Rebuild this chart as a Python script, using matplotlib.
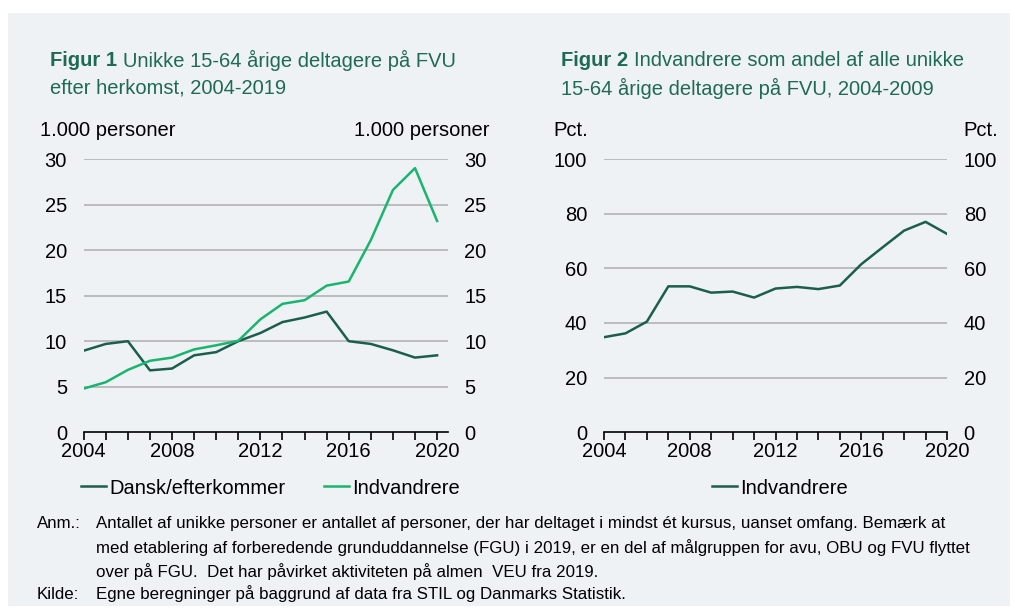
import matplotlib.pyplot as plt
from matplotlib.patches import Rectangle
from matplotlib.ticker import MultipleLocator

## data
years = list(range(2004, 2021))
dansk = [8.96, 9.7, 10.0, 6.8, 7.0, 8.45, 8.8, 10.0, 10.9, 12.1, 12.6, 13.25,
         10.0, 9.7, 9.0, 8.2, 8.45]
indvandrere = [4.8, 5.5, 6.85, 7.85, 8.2, 9.1, 9.55, 10.05, 12.4, 14.1, 14.5,
               16.1, 16.55, 21.1, 26.6, 29.0, 23.2]
andel = [34.8, 36.2, 40.5, 53.4, 53.4, 51.1, 51.5, 49.3, 52.6, 53.2, 52.4,
         53.7, 61.5, 67.7, 73.8, 77.0, 72.6]

title1 = ("Figur 1", "Unikke 15-64 årige deltagere på FVU", "efter herkomst, 2004-2019")
title2 = ("Figur 2", "Indvandrere som andel af alle unikke", "15-64 årige deltagere på FVU, 2004-2009")
note_lines = [
    ("Anm.:", "Antallet af unikke personer er antallet af personer, der har deltaget i mindst ét kursus, uanset omfang. Bemærk at"),
    ("", "med etablering af forberedende grunduddannelse (FGU) i 2019, er en del af målgruppen for avu, OBU og FVU flyttet"),
    ("", "over på FGU.  Det har påvirket aktiviteten på almen  VEU fra 2019."),
    ("Kilde:", "Egne beregninger på baggrund af data fra STIL og Danmarks Statistik."),
]

dark = '#1b5e4b'
light = '#1ab46f'
title_col = '#1f6a55'
bg = '#eef2f5'
grid_col = '#b3b3b3'

plt.rcParams['font.family'] = ['Liberation Sans', 'DejaVu Sans']
W, H = 1015, 616
fig = plt.figure(figsize=(W / 100, H / 100), dpi=100)
fig.patches.append(Rectangle((8 / W, 10 / H), 1002 / W, 593 / H, transform=fig.transFigure,
                             facecolor=bg, edgecolor='none', zorder=-10))


def px(x, y):
    return x / W, 1 - y / H


def style_axis(ax, ymax, ystep, xmax):
    ax.set_facecolor('none')
    ax.set_xlim(2004, xmax)
    ax.set_ylim(0, ymax)
    ax.yaxis.set_major_locator(MultipleLocator(ystep))
    ax.xaxis.set_major_locator(MultipleLocator(4))
    ax.xaxis.set_minor_locator(MultipleLocator(1))
    for s in ['top', 'left', 'right']:
        ax.spines[s].set_visible(False)
    ax.spines['bottom'].set_color('black')
    ax.spines['bottom'].set_linewidth(1.2)
    ax.tick_params(axis='y', length=0, labelleft=True, labelright=True, pad=12,
                   labelsize=14.5)
    ax.tick_params(axis='x', which='both', length=6, width=1.2, direction='out',
                   labelsize=14.5, pad=1)
    for v in range(ystep, ymax + 1, ystep):
        ax.axhline(v, color=grid_col, lw=1.2, zorder=0)


def draw_title(x, y, t):
    bold = fig.text(*px(x, y), t[0] + " ", fontsize=14.5, fontweight='bold',
                    color=title_col, va='center')
    fig.canvas.draw()
    bb = bold.get_window_extent()
    fig.text(bb.x1 / W, 1 - y / H, t[1], fontsize=14.5, color=title_col, va='center')
    fig.text(*px(x, y + 28), t[2], fontsize=14.5, color=title_col, va='center')


# Figur 1
ax1 = fig.add_axes([83.7 / W, 1 - 432.3 / H, (447.7 - 83.7) / W, (432.3 - 159) / H])
style_axis(ax1, 30, 5, 2020.48)
ax1.plot(years, dansk, color=dark, lw=1.8, label='Dansk/efterkommer')
ax1.plot(years, indvandrere, color=light, lw=1.8, label='Indvandrere')
ax1.legend(loc='center left', bbox_to_anchor=px(81, 488), bbox_transform=fig.transFigure,
           ncol=2, frameon=False, fontsize=14.5, handlelength=1.25, handletextpad=0.15,
           columnspacing=1.9, borderpad=0, borderaxespad=0)
fig.text(*px(40, 131), "1.000 personer", fontsize=14.5, va='center')
fig.text(*px(490, 131), "1.000 personer", fontsize=14.5, va='center', ha='right')
draw_title(50, 60, title1)

# Figur 2
ax2 = fig.add_axes([604 / W, 1 - 432.3 / H, (947 - 604) / W, (432.3 - 159) / H])
style_axis(ax2, 100, 20, 2020)
ax2.plot(years, andel, color=dark, lw=1.8, label='Indvandrere')
ax2.legend(loc='center left', bbox_to_anchor=px(712, 488), bbox_transform=fig.transFigure,
           frameon=False, fontsize=14.5, handlelength=1.25, handletextpad=0.15,
           borderpad=0, borderaxespad=0)
fig.text(*px(553, 131), "Pct.", fontsize=14.5, va='center')
fig.text(*px(998, 131), "Pct.", fontsize=14.5, va='center', ha='right')
draw_title(561, 60, title2)

# notes (baseline aligned so labels and text line up)
ys = [528, 553, 577, 599]
for (lab, txt), y in zip(note_lines, ys):
    if lab:
        fig.text(*px(37, y), lab, fontsize=12.2, va='baseline')
    fig.text(*px(96, y), txt, fontsize=12.2, va='baseline')

fig.savefig('out.png', dpi=100, facecolor='white')
